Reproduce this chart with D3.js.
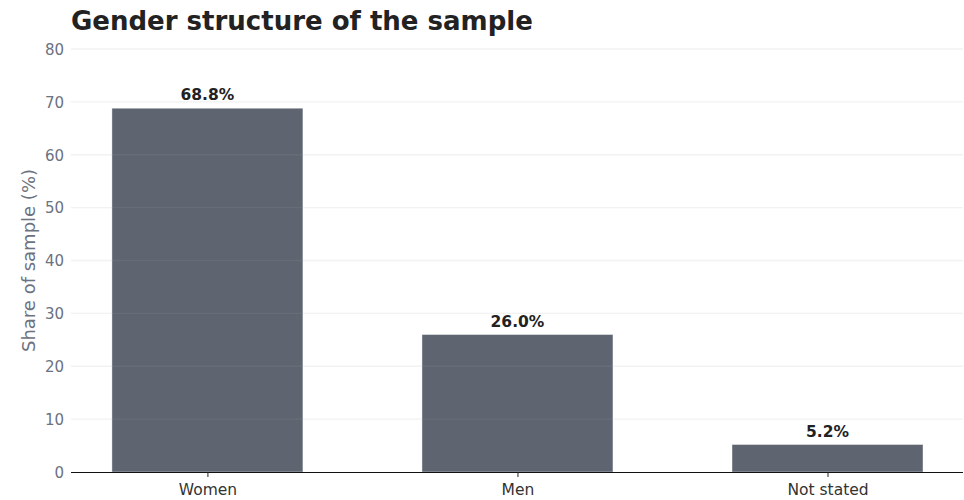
<!DOCTYPE html>
<html><head><meta charset="utf-8">
<script src="https://cdn.jsdelivr.net/npm/d3@7"></script>
<style>body{margin:0;background:#fff}svg{display:block}text{font-family:"DejaVu Sans",sans-serif}</style>
</head><body>
<svg id="c" width="964" height="500"></svg>
<script>
const categories = ["Women", "Men", "Not stated"];
const shares = [68.8, 26.0, 5.2];
const yTicks = [0, 10, 20, 30, 40, 50, 60, 70, 80];
const valueLabels = ["68.8%", "26.0%", "5.2%"];

const svg = d3.select("#c");
const L = 71, R = 963, T = 49, B = 472;
const x = d3.scaleLinear().domain([-0.44, 2.437]).range([L, R]);
const y = d3.scaleLinear().domain([0, 80]).range([B, T]);
const bw = 0.616;

svg.append("text").attr("x", L).attr("y", 30).attr("font-size", 26).attr("font-weight", "bold")
  .attr("fill", "#222").text("Gender structure of the sample");

const bars = svg.append("g");
bars.selectAll("rect").data(shares).join("rect")
  .attr("x", (d, i) => x(i - bw / 2)).attr("width", x(bw) - x(0))
  .attr("y", d => y(d)).attr("height", d => y(0) - y(d))
  .attr("fill", "#5e6571")
  .attr("stroke", "#ffffff").attr("stroke-opacity", 0.5).attr("stroke-width", 0.8);

const grid = svg.append("g");
grid.selectAll("line").data(yTicks.slice(1)).join("line")
  .attr("x1", L).attr("x2", R).attr("y1", d => y(d)).attr("y2", d => y(d))
  .attr("stroke", "#a5a5a5").attr("stroke-opacity", 0.14).attr("stroke-width", 1.3);

const yAxis = d3.axisLeft(y).tickValues(yTicks).tickSize(0).tickPadding(7);
const gy = svg.append("g").attr("transform", `translate(${L},0)`).call(yAxis);
gy.select(".domain").remove();
gy.selectAll("text").attr("font-size", 15).attr("fill", "#6b7280").attr("font-family", "DejaVu Sans, sans-serif").attr("dy", "0.35em");

const xAxis = d3.axisBottom(x).tickValues([0, 1, 2]).tickFormat(i => categories[i]).tickSize(5).tickPadding(7);
const gx = svg.append("g").attr("transform", `translate(0,${B})`).call(xAxis);
gx.select(".domain").attr("stroke", "#111").attr("stroke-width", 1.2).attr("d", `M${L},0.5H${R}`);
gx.selectAll(".tick line").attr("stroke", "#222");
gx.selectAll("text").attr("font-size", 15.5).attr("fill", "#333").attr("font-family", "DejaVu Sans, sans-serif");

svg.append("text").attr("transform", `translate(35,${(T + B) / 2}) rotate(-90)`).attr("text-anchor", "middle")
  .attr("font-size", 18).attr("fill", "#6b7280").text("Share of sample (%)");

svg.append("g").selectAll("text").data(shares).join("text")
  .attr("x", (d, i) => x(i)).attr("y", d => y(d) - 8).attr("text-anchor", "middle")
  .attr("font-size", 15.5).attr("font-weight", "bold").attr("fill", "#222")
  .text((d, i) => valueLabels[i]);
</script>
</body></html>
